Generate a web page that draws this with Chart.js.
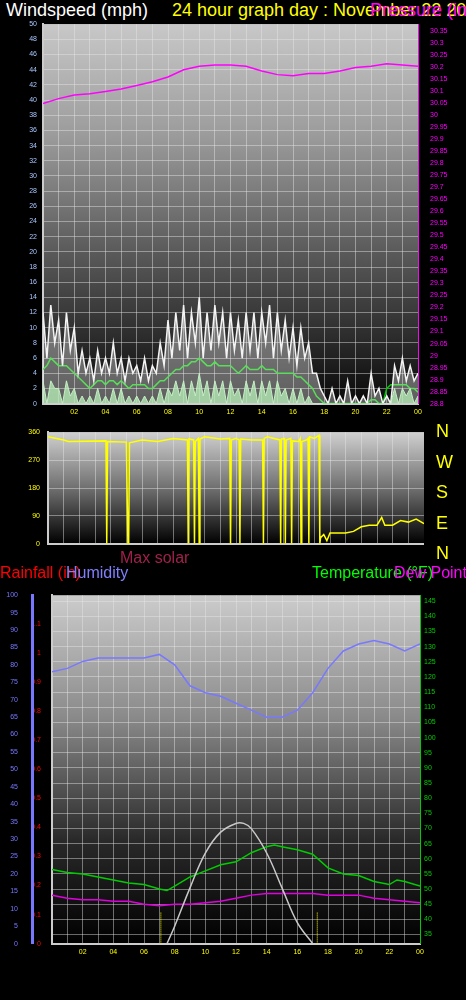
<!DOCTYPE html>
<html><head><meta charset="utf-8">
<script src="https://cdn.jsdelivr.net/npm/chart.js@4/dist/chart.umd.min.js"></script>
<style>
body{margin:0;background:#000;width:466px;height:1000px;position:relative;overflow:hidden;font-family:"Liberation Sans",Arial,sans-serif}
canvas{position:absolute}
.t{position:absolute;white-space:nowrap;line-height:1}
</style></head><body>
<div class="t" style="left:6px;top:1px;font-size:18px;color:#fff">Windspeed (mph)</div>
<div class="t" style="left:172px;top:1px;font-size:18px;color:#ff0">24 hour graph day : November 22 2023</div>
<div class="t" style="left:370px;top:1px;font-size:18px;color:#f0f">Pressure (in)</div>
<canvas id="c1" style="left:0;top:14px;width:466px;height:406px"></canvas>
<canvas id="c2" style="left:0;top:420px;width:424px;height:136px"></canvas>
<div class="t" style="left:436px;top:416px;font-size:18px;color:#ff0;line-height:30.5px">N<br>W<br>S<br>E<br>N</div>
<div class="t" style="left:120px;top:550px;font-size:16px;color:#a0204a">Max solar</div>
<div class="t" style="left:0;top:565px;font-size:16px;color:#f00">Rainfall (in)</div>
<div class="t" style="left:66px;top:565px;font-size:16px;color:#8080ff">Humidity</div>
<div class="t" style="left:312px;top:565px;font-size:16px;color:#0f0">Temperature (°F)</div>
<div class="t" style="left:394px;top:565px;font-size:16px;color:#f0f">Dew Point</div>
<canvas id="c3" style="left:0;top:585px;width:466px;height:375px"></canvas>
<script>
const hours48=[0,0.25,0.5,0.75,1,1.25,1.5,1.75,2,2.25,2.5,2.75,3,3.25,3.5,3.75,4,4.25,4.5,4.75,5,5.25,5.5,5.75,6,6.25,6.5,6.75,7,7.25,7.5,7.75,8,8.25,8.5,8.75,9,9.25,9.5,9.75,10,10.25,10.5,10.75,11,11.25,11.5,11.75,12,12.25,12.5,12.75,13,13.25,13.5,13.75,14,14.25,14.5,14.75,15,15.25,15.5,15.75,16,16.25,16.5,16.75,17,17.25,17.5,17.75,18,18.25,18.5,18.75,19,19.25,19.5,19.75,20,20.25,20.5,20.75,21,21.25,21.5,21.75,22,22.25,22.5,22.75,23,23.25,23.5,23.75,24];
const gust=[12,6,13,8,11,5,12,7,10,4,7,4,6,3,7,4,6,4,8,4,6,3,6,4,5,3,6,3,5,4,8,5,11,6,12,7,13,6,12,8,14,6,12,7,13,8,12,6,12,7,11,6,12,7,12,6,12,8,13,6,12,7,11,6,10,5,10,6,8,4,4,2,1,0,2,0,1,0,3,0,1,0,1,0,4,1,2,0,1,0,5,3,6,3,5,3,4];
const avgWind=[4.5,5,6,5.5,5,5,5,4.5,4,3.5,3,2.5,2,2.5,3,3,2.5,3,3,2.5,3,2.5,2,2.5,2.5,2.5,2.5,2,2,2.5,3,3,3.5,4,4.5,4.5,5,5,5.5,5.5,6,5.5,5,5,5.5,5,5,5,5,4.5,4,4.5,5,4.5,4.5,4.5,5,4.5,4.5,4.5,4,4,4,4,4,3.5,3.5,3,2.5,2,1,0.5,0,0,0,0,0,0,0,0,0,0,0,0,0.5,0.5,0,0,2,2.5,2.5,2.5,2.5,2.5,2,2,1.5];
const lull=[3,0,3,2,2,0,3,1,2,0,1,0,1,0,2,0,1,0,2,0,2,0,1,0,1,0,1,0,1,0,2,0,2,1,3,1,3,0,3,1,4,1,3,0,3,1,3,0,3,1,2,0,3,1,3,0,3,1,3,0,3,1,2,0,2,0,2,0,1,0,0,0,0,0,0,0,0,0,0,0,0,0,0,0,0,0,0,0,0,0,2,0,2,1,2,0,1];
const hours25=[0,1,2,3,4,5,6,7,8,9,10,11,12,13,14,15,16,17,18,19,20,21,22,23,24];
const pressure=[30.05,30.07,30.085,30.09,30.10,30.11,30.125,30.14,30.16,30.19,30.205,30.21,30.21,30.205,30.185,30.17,30.165,30.175,30.175,30.185,30.2,30.205,30.215,30.21,30.205];
const dirHours=[0,1,1.3,3.7,3.75,3.8,5,5.1,5.15,5.2,6,7,8,8.9,8.95,9,9.3,9.35,9.4,9.6,9.65,9.7,10,11,11.6,11.65,11.7,12,12.2,12.25,12.3,13,13.7,13.75,13.8,14,14.8,14.85,14.9,15.1,15.15,15.2,15.5,15.55,15.6,16,16.1,16.15,16.2,16.5,16.6,16.65,16.7,17,17.3,17.35,17.4,17.6,17.8,18,19,19.5,20,20.5,21,21.3,21.5,22,22.5,23,23.5,24];
const direction=[345,335,330,332,0,330,328,0,0,326,335,330,340,335,0,338,335,0,330,340,0,338,345,338,340,0,335,340,335,0,338,335,335,0,340,345,335,0,338,340,0,335,340,0,332,330,340,0,330,335,340,0,345,340,350,0,20,30,10,35,35,40,55,60,60,85,60,60,75,70,80,65];
const humidity=[78,79,81,82,82,82,82,83,80,74,72,71,69,67,65,65,67,72,79,84,86,87,86,84,86];
const tempHours=[0,1,2,3,4,5,6,7,7.5,8,9,10,11,12,13,14,14.5,15,16,17,18,19,20,21,22,22.5,23,24];
const temperature=[56.5,55.5,55,54,53,52,51.5,50,49.5,51,54,56,58,59,62,64,64.5,64,63,61.5,57,55,54.5,52.5,51.5,53,52.5,51];
const dewPoint=[48,47,46.5,46.5,46,46,45,44.5,45,45,45.5,46,47,48,48.5,48.5,48.5,48.5,48,48,48,47,46.5,46,45.5];
const solarHours=[7.5,8,9,10,11,12,12.5,13,14,15,16,17];
const maxSolar=[0,5,16,26,32,34.5,34.5,33,26,16,6,0];
const rainHours=[7.5,17];
const rainfall=[0,0];

const xy=(xs,ys)=>xs.map((x,i)=>({x,y:ys[i]}));
const tickFont={family:'Liberation Sans',size:7};
const grid={color:'rgba(230,230,230,0.45)',lineWidth:1,borderDash:[1,2],drawTicks:false};
function bg(stops){return{id:'bg',beforeDraw(c){const a=c.chartArea,g=c.ctx.createLinearGradient(0,a.top,0,a.bottom);stops.forEach(s=>g.addColorStop(s[0],s[1]));c.ctx.save();c.ctx.fillStyle=g;c.ctx.fillRect(a.left,a.top,a.right-a.left,a.bottom-a.top);c.ctx.restore();}}}
const xAxis=(show)=>({type:'linear',min:0,max:24,grid,border:{color:'#ccc',width:2},
 ticks:{display:show,stepSize:1,autoSkip:false,color:'#ff0',font:tickFont,maxRotation:0,padding:4,
 callback:v=>(v%2===0&&v>0)?String(v%24).padStart(2,'0'):''}});
const fixW=w=>s=>{s.width=w};
const mkTicks=(a,b,st)=>s=>{const t=[];for(let v=a;v<=b+1e-9;v+=st)t.push({value:Math.round(v*1000)/1000});s.ticks=t;};
Chart.defaults.animation=false;Chart.defaults.devicePixelRatio=1;
const pt={pointRadius:0,tension:0};

new Chart(document.getElementById('c1'),{type:'line',
 data:{datasets:[
  {data:xy(hours25,pressure),yAxisID:'p',borderColor:'#f0f',borderWidth:1.5,...pt},
  {data:xy(hours48,lull),yAxisID:'y',borderColor:'#c8f0c8',backgroundColor:'rgba(190,240,190,0.85)',fill:'origin',borderWidth:1,...pt},
  {data:xy(hours48,gust),yAxisID:'y',borderColor:'#f4f4f4',backgroundColor:'rgba(255,255,255,0.35)',fill:'-1',borderWidth:1.5,...pt},
  {data:xy(hours48,avgWind),yAxisID:'y',borderColor:'#0c0',borderWidth:1.5,...pt}]},
 options:{responsive:false,maintainAspectRatio:false,layout:{padding:{top:4}},plugins:{legend:{display:false},tooltip:{enabled:false}},
  scales:{x:xAxis(true),
   y:{min:0,max:50,position:'left',afterFit:fixW(43),grid,border:{color:'#ccc',width:2},ticks:{stepSize:2,color:'#a8c8ff',font:tickFont,padding:6}},
   p:{min:28.8,max:30.38,position:'right',afterFit:fixW(48),afterBuildTicks:mkTicks(28.8,30.35,0.05),grid:{display:false},border:{color:'#f0f',width:1},
    ticks:{autoSkip:false,color:'#f0f',font:tickFont,padding:4,callback:v=>String(Math.round(v*100)/100)}}}},
 plugins:[bg([[0,'#c8c8c8'],[0.3,'#9a9a9a'],[0.6,'#5a5a5a'],[1,'#080808']])]});

new Chart(document.getElementById('c2'),{type:'line',
 data:{datasets:[{data:xy(dirHours,direction),borderColor:'#ff0',borderWidth:1.5,...pt}]},
 options:{responsive:false,maintainAspectRatio:false,layout:{padding:{top:8,bottom:6}},plugins:{legend:{display:false},tooltip:{enabled:false}},
  scales:{x:xAxis(false),
   y:{min:0,max:360,afterFit:fixW(48),grid,border:{color:'#ccc',width:2},ticks:{stepSize:90,color:'#ff0',font:tickFont,padding:8}}}},
 plugins:[bg([[0,'#d0d0d0'],[0.5,'#707070'],[1,'#000']])]});

new Chart(document.getElementById('c3'),{type:'line',
 data:{datasets:[
  {data:[{x:0,y:0},{x:24,y:0}],yAxisID:'r',borderColor:'#e08080',borderWidth:2,...pt},
  {data:xy(rainHours,rainfall),yAxisID:'r',borderColor:'#f00',borderWidth:3,...pt},
  {data:[{x:7.1,y:0},{x:7.1,y:9}],yAxisID:'h',borderColor:'#ff0',borderWidth:1,borderDash:[1,1],...pt},
  {data:[{x:17.3,y:0},{x:17.3,y:9}],yAxisID:'h',borderColor:'#ff0',borderWidth:1,borderDash:[1,1],...pt},
  {data:xy(solarHours,maxSolar),yAxisID:'h',borderColor:'#c8c8c8',borderWidth:1.5,tension:0.4,pointRadius:0},
  {data:xy(hours25,humidity),yAxisID:'h',borderColor:'#7878ff',borderWidth:1.5,...pt},
  {data:xy(tempHours,temperature),yAxisID:'t',borderColor:'#0c0',borderWidth:1.5,...pt},
  {data:xy(hours25,dewPoint),yAxisID:'t',borderColor:'#e000e0',borderWidth:1.5,...pt}]},
 options:{responsive:false,maintainAspectRatio:false,layout:{padding:{top:10}},plugins:{legend:{display:false},tooltip:{enabled:false}},
  scales:{x:xAxis(true),
   r:{min:0,max:1.2,position:'left',afterFit:fixW(20),afterBuildTicks:mkTicks(0,1.1,0.1),grid:{display:false},border:{color:'#ccc',width:2},ticks:{autoSkip:false,color:'#f00',font:tickFont,padding:3,callback:v=>String(Math.round(v*10)/10)}},
   h:{min:0,max:100,position:'left',afterFit:fixW(32),grid:{display:false},border:{color:'#7878ff',width:3},ticks:{stepSize:5,color:'#7878ff',font:tickFont,padding:6}},
   t:{min:32,max:147,position:'right',afterFit:fixW(46),afterBuildTicks:mkTicks(35,145,5),grid:{...grid,display:true},border:{color:'#0c0',width:1},ticks:{autoSkip:false,color:'#0c0',font:tickFont,padding:4}}}},
 plugins:[bg([[0,'#cccccc'],[0.35,'#8a8a8a'],[0.7,'#2a2a2a'],[1,'#000']])]});
</script></body></html>
